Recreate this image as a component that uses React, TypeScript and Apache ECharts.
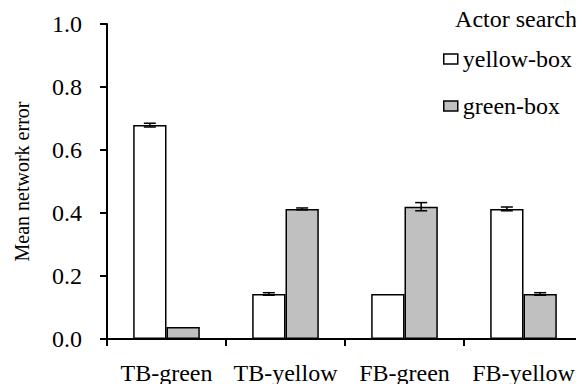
import React, { useEffect, useRef } from "react";
import * as echarts from "echarts";

const categories = ["TB-green", "TB-yellow", "FB-green", "FB-yellow"];
const yellowBox = [0.679, 0.143, 0.143, 0.413];
const greenBox = [0.038, 0.413, 0.42, 0.143];
const yellowErr = [0.006, 0.004, 0, 0.006];
const greenErr = [0, 0.003, 0.013, 0.004];
const seriesNames = ["yellow-box", "green-box"];
const legendTitle = "Actor search";
const yAxisName = "Mean network error";

const FONT = "Liberation Serif";
const BAR_FRAC = 0.28;

export default function App() {
  const ref = useRef<HTMLDivElement>(null);
  useEffect(() => {
    if (!ref.current) return;
    const chart = echarts.init(ref.current, undefined, { renderer: "svg" });
    const errData: number[][] = [];
    categories.forEach((_, i) => {
      errData.push([i, yellowBox[i], yellowErr[i], 0]);
      errData.push([i, greenBox[i], greenErr[i], 1]);
    });
    chart.setOption({
      animation: false,
      title: {
        text: legendTitle,
        right: 7,
        top: 7,
        padding: 0,
        textStyle: { fontFamily: FONT, fontSize: 24, fontWeight: 400, color: "#000" },
      },
      legend: {
        orient: "vertical",
        left: 443,
        top: 47,
        padding: 0,
        icon: "rect",
        itemWidth: 14,
        itemHeight: 10,
        itemGap: 23,
        data: seriesNames,
        textStyle: { fontFamily: FONT, fontSize: 24, color: "#000", lineHeight: 24 },
        itemStyle: { borderColor: "#000", borderWidth: 1.5 },
      },
      grid: { left: 107, right: 1, top: 24, bottom: 53, containLabel: false },
      xAxis: {
        type: "category",
        data: categories,
        boundaryGap: true,
        axisLine: { lineStyle: { color: "#000", width: 2 } },
        axisTick: { show: true, length: 7, lineStyle: { color: "#000", width: 2 } },
        axisLabel: { fontFamily: FONT, fontSize: 24, color: "#000", margin: 22, interval: 0 },
      },
      yAxis: {
        type: "value",
        min: 0,
        max: 1,
        interval: 0.2,
        name: yAxisName,
        nameLocation: "middle",
        nameGap: 75,
        nameTextStyle: { fontFamily: FONT, fontSize: 20, color: "#000" },
        axisLine: { show: true, lineStyle: { color: "#000", width: 2 } },
        axisTick: { show: true, length: 7, lineStyle: { color: "#000", width: 2 } },
        axisLabel: {
          fontFamily: FONT,
          fontSize: 24,
          color: "#000",
          margin: 25,
          formatter: (v: number) => v.toFixed(1),
        },
        splitLine: { show: false },
      },
      series: [
        {
          name: seriesNames[0],
          type: "bar",
          data: yellowBox,
          barWidth: BAR_FRAC * 100 + "%",
          barGap: "0%",
          itemStyle: { color: "#ffffff", borderColor: "#000", borderWidth: 1.5 },
        },
        {
          name: seriesNames[1],
          type: "bar",
          data: greenBox,
          barWidth: BAR_FRAC * 100 + "%",
          barGap: "0%",
          itemStyle: { color: "#c0c0c0", borderColor: "#000", borderWidth: 1.5 },
        },
        {
          type: "custom",
          z: 10,
          data: errData,
          encode: { x: 0, y: 1 },
          renderItem: (params: any, api: any) => {
            const cat = api.value(0);
            const v = api.value(1);
            const e = api.value(2);
            const s = api.value(3);
            if (!e) return null;
            const band = api.size([1, 0])[0];
            const bw = band * BAR_FRAC;
            const cx = api.coord([cat, v])[0] + (s === 0 ? -bw / 2 : bw / 2);
            const top = api.coord([cat, v + e])[1];
            const bot = api.coord([cat, v - e])[1];
            const cap = 6;
            const style = { stroke: "#000", lineWidth: 1.5 };
            return {
              type: "group",
              children: [
                { type: "line", shape: { x1: cx, y1: top, x2: cx, y2: bot }, style },
                { type: "line", shape: { x1: cx - cap, y1: top, x2: cx + cap, y2: top }, style },
                { type: "line", shape: { x1: cx - cap, y1: bot, x2: cx + cap, y2: bot }, style },
              ],
            };
          },
        },
      ],
    });
    return () => chart.dispose();
  }, []);
  return <div ref={ref} style={{ width: 584, height: 392, margin: -8 }} />;
}
